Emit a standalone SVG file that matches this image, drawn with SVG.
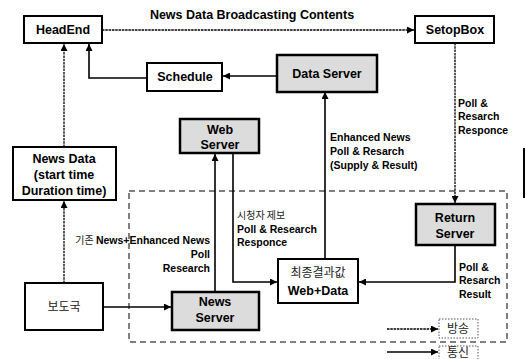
<svg xmlns="http://www.w3.org/2000/svg" width="526" height="359" viewBox="0 0 526 359">
<style>
.box{fill:#fff;stroke:#000;stroke-width:2}
.gbox{fill:#dcdcdc;stroke:#000;stroke-width:2.5}
.lbl{font-family:"Liberation Sans",Arial,sans-serif;font-weight:bold;font-size:12.5px;text-anchor:middle;fill:#000}
.sm{font-family:"Liberation Sans",Arial,sans-serif;font-weight:bold;font-size:10.5px;fill:#000}
.kr{font-family:"Noto Sans CJK KR",sans-serif;font-weight:normal;fill:#222}
.c{fill:none;stroke:#000;stroke-width:1.6}
.bc{fill:none;stroke:#000;stroke-width:1.3;stroke-dasharray:2.5 0.8}
.leg{fill:#fff;stroke:#555;stroke-width:1;stroke-dasharray:1.5 1.5}
</style>
<defs>
<marker id="ah" viewBox="0 0 10 10" refX="10" refY="5" markerWidth="9" markerHeight="7" orient="auto" markerUnits="userSpaceOnUse">
<path d="M0,0 L10,5 L0,10 z" fill="#000"/>
</marker>
</defs>

<rect x="129" y="191" width="378" height="151" fill="none" stroke="#000" stroke-width="1" stroke-dasharray="6 4"/>
<line x1="524" y1="148" x2="524" y2="198" stroke="#000" stroke-width="2"/>

<text class="lbl" x="252" y="19">News Data Broadcasting Contents</text>

<g id="connectors">
<path class="bc" d="M102,30 H414" marker-end="url(#ah)"/>
<path class="c" d="M276,76 H223" marker-end="url(#ah)"/>
<path class="c" d="M147,78 H89 V44" marker-end="url(#ah)"/>
<path class="bc" d="M64,147 V44" marker-end="url(#ah)"/>
<path class="bc" d="M64,283 V201" marker-end="url(#ah)"/>
<path class="c" d="M103,307 H171" marker-end="url(#ah)"/>
<path class="c" d="M215,292 V154" marker-end="url(#ah)"/>
<path class="c" d="M233,153 V282 H277" marker-end="url(#ah)"/>
<path class="c" d="M325,259 V92" marker-end="url(#ah)"/>
<path class="bc" d="M455,43 V203" marker-end="url(#ah)"/>
<path class="c" d="M455,245 V282 H359" marker-end="url(#ah)"/>
<path class="bc" d="M387,329 H438" marker-end="url(#ah)"/>
<path class="c" d="M387,352 H438" marker-end="url(#ah)"/>
</g>

<g id="headend">
<rect class="box" x="24" y="16" width="78" height="27"/>
<text class="lbl" x="63" y="34">HeadEnd</text>
</g>
<g id="setopbox">
<rect class="box" x="415" y="16" width="79" height="27"/>
<text class="lbl" x="455" y="34">SetopBox</text>
</g>
<g id="schedule">
<rect class="box" x="147" y="63" width="75" height="28"/>
<text class="lbl" x="185" y="81">Schedule</text>
</g>
<g id="dataserver">
<rect class="gbox" x="277" y="55" width="100" height="37"/>
<text class="lbl" x="327" y="78">Data Server</text>
</g>
<g id="webserver">
<rect class="gbox" x="180" y="119" width="79" height="34"/>
<text class="lbl" x="220" y="134">Web</text>
<text class="lbl" x="220" y="149">Server</text>
</g>
<g id="newsdata">
<rect class="box" x="13" y="147" width="103" height="53"/>
<text class="lbl" x="64" y="163">News Data</text>
<text class="lbl" x="64" y="179">(start time</text>
<text class="lbl" x="64" y="195">Duration time)</text>
</g>
<g id="returnserver">
<rect class="gbox" x="416" y="204" width="79" height="41"/>
<text class="lbl" x="455" y="222">Return</text>
<text class="lbl" x="455" y="238">Server</text>
</g>
<g id="bodoguk">
<rect class="box" x="25" y="283" width="78" height="47"/>
<text class="lbl kr" x="64" y="311" style="font-size:12px">보도국</text>
</g>
<g id="newsserver">
<rect class="gbox" x="172" y="292" width="87" height="38"/>
<text class="lbl" x="215" y="306">News</text>
<text class="lbl" x="215" y="322">Server</text>
</g>
<g id="final">
<rect class="box" x="278" y="259" width="80" height="44"/>
<text class="lbl kr" x="318" y="277" style="font-size:12px">최종결과값</text>
<text class="lbl" x="318" y="295">Web+Data</text>
</g>

<g id="labels">
<text class="sm" x="210" y="244" text-anchor="end"><tspan class="kr" style="font-size:10px">기존 </tspan>News+Enhanced News</text>
<text class="sm" x="210" y="258" text-anchor="end">Poll</text>
<text class="sm" x="210" y="272" text-anchor="end">Research</text>
<text class="sm kr" x="237" y="219" style="font-size:10px">시청자 제보</text>
<text class="sm" x="237" y="233">Poll &amp; Research</text>
<text class="sm" x="237" y="246">Responce</text>
<text class="sm" x="330" y="141">Enhanced News</text>
<text class="sm" x="330" y="155">Poll &amp; Resarch</text>
<text class="sm" x="330" y="169">(Supply &amp; Result)</text>
<text class="sm" x="458" y="107">Poll &amp;</text>
<text class="sm" x="458" y="120">Resarch</text>
<text class="sm" x="458" y="134">Responce</text>
<text class="sm" x="459" y="271">Poll &amp;</text>
<text class="sm" x="459" y="284">Resarch</text>
<text class="sm" x="459" y="298">Result</text>
</g>

<g id="legend">
<rect class="leg" x="439" y="319" width="39" height="19"/>
<text class="lbl kr" x="458" y="333" style="font-size:12px">방송</text>
<rect class="leg" x="439" y="346" width="39" height="19"/>
<text class="lbl kr" x="458" y="357" style="font-size:12px">통신</text>
</g>
</svg>
